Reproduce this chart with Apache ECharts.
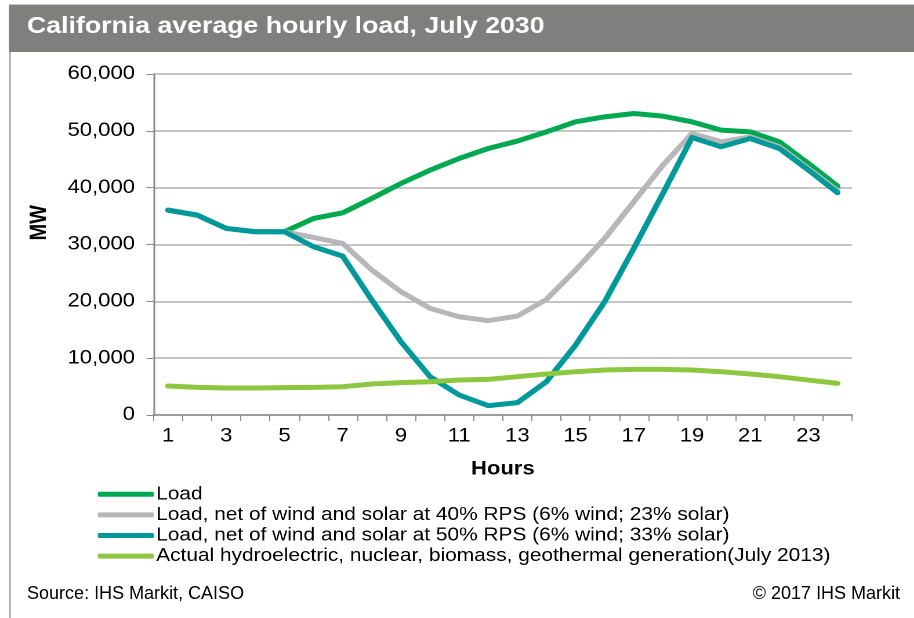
<!DOCTYPE html>
<html>
<head>
<meta charset="utf-8">
<script src="https://cdn.jsdelivr.net/npm/echarts@6/dist/echarts.min.js"></script>
<style>
  html, body { margin: 0; padding: 0; background: #fff; overflow: hidden; }
  /* the source picture is stretched sideways, so draw narrower and stretch */
  #chart { width: 788px; height: 618px; transform: scaleX(1.16); transform-origin: 0 0; }
</style>
</head>
<body>
<div id="chart"></div>
<script>
  // hours of the day
  var hours = ['1','2','3','4','5','6','7','8','9','10','11','12','13','14','15','16','17','18','19','20','21','22','23','24']
  // MW values
  var load = [36050,35170,32830,32240,32240,34580,35580,38100,40740,43080,45140,46890,48200,49820,51580,52460,53050,52580,51580,50120,49820,48070,44260,40270]
  var net40 = [36050,35170,32830,32240,32240,31240,30190,25500,21690,18760,17290,16590,17410,20340,25500,31070,37510,43960,49530,48070,48940,47190,43380,39450]
  var net50 = [36050,35170,32830,32240,32240,29600,27960,20220,12900,6740,3520,1640,2170,5860,12310,19930,29310,38980,48830,47190,48650,46890,43080,39100]
  var baseGen = [5100,4870,4750,4750,4810,4870,4980,5450,5690,5860,6150,6270,6740,7210,7620,7910,8030,8030,7910,7620,7210,6740,6150,5570]

  var seriesNames = [
    'Load',
    'Load, net of wind and solar at 40% RPS (6% wind; 23% solar)',
    'Load, net of wind and solar at 50% RPS (6% wind; 33% solar)',
    'Actual hydroelectric, nuclear, biomass, geothermal generation(July 2013)'
  ]
  var colors = ['#00a94f', '#b7b7ba', '#00999b', '#8dc63f']
  var font = '"Liberation Sans", Arial, sans-serif'
  var sx = 1.16 // horizontal stretch used in the css

  var chart = echarts.init(document.getElementById('chart'), null, { devicePixelRatio: 2 })

  function line(name, data, color) {
    return {
      name: name,
      type: 'line',
      data: data,
      symbol: 'none',
      color: color,
      lineStyle: { width: 5, color: color, cap: 'round', join: 'round' }
    }
  }

  var option = {
    animation: false,
    textStyle: { fontFamily: font },
    graphic: [
      // title bar
      { type: 'rect', left: 9 / sx, top: 5, shape: { width: 910 / sx, height: 47 }, style: { fill: '#7f807e' }, z: 0 },
      { type: 'rect', left: 9 / sx, top: 4, shape: { width: 910 / sx, height: 1 }, style: { fill: '#c8c8c8' }, z: 0 },
      // left frame line
      { type: 'rect', left: 9 / sx, top: 52, shape: { width: 2 / sx, height: 566 }, style: { fill: '#b0b0b0' }, z: 0 },
      { type: 'text', left: 27 / sx, top: 15, z: 10,
        style: { text: 'California average hourly load, July 2030', fill: '#fff', font: 'bold 23px ' + font } },
      // footer is not stretched in the source
      { type: 'text', x: 27 / sx, y: 585, scaleX: 1 / sx,
        style: { text: 'Source: IHS Markit, CAISO', fill: '#000', font: '18px ' + font } },
      { type: 'text', x: 900 / sx, y: 585, scaleX: 1 / sx,
        style: { text: '\u00a9 2017 IHS Markit', fill: '#000', font: '18px ' + font, align: 'right' } },
      { type: 'text', left: 28 / sx, top: 205, rotation: Math.PI / 2,
        style: { text: 'MW', fill: '#000', font: 'bold 20px ' + font } }
    ],
    legend: {
      orient: 'vertical',
      left: 92 / sx,
      top: 480,
      icon: 'roundRect',
      itemWidth: 56 / sx,
      itemHeight: 5,
      itemGap: 2,
      data: seriesNames,
      textStyle: { fontSize: 18, color: '#000', fontFamily: font, lineHeight: 18.6, padding: [0, 0, 0, -3] }
    },
    grid: { left: 153.5 / sx, right: 62 / sx, top: 74, bottom: 203, containLabel: false },
    xAxis: {
      type: 'category',
      data: hours,
      name: 'Hours',
      nameLocation: 'middle',
      nameGap: 45,
      nameTextStyle: { fontSize: 19, fontWeight: 'bold', color: '#000' },
      axisLine: { lineStyle: { color: '#8a8a8a', width: 1.5 } },
      axisTick: { show: true, length: 6, interval: 0, lineStyle: { color: '#8a8a8a' } },
      axisLabel: { interval: 1, fontSize: 19, color: '#000', margin: 12 }
    },
    yAxis: {
      type: 'value',
      min: 0,
      max: 60000,
      interval: 10000,
      axisLine: { show: true, lineStyle: { color: '#8a8a8a', width: 1.5 } },
      axisTick: { show: true, length: 6, lineStyle: { color: '#8a8a8a' } },
      splitLine: { lineStyle: { color: '#b2b2b2', width: 1.5 } },
      axisLabel: {
        fontSize: 19, color: '#000', margin: 16,
        formatter: function (v) { return v.toLocaleString('en-US') }
      }
    },
    series: [
      line(seriesNames[0], load, colors[0]),
      line(seriesNames[1], net40, colors[1]),
      line(seriesNames[2], net50, colors[2]),
      line(seriesNames[3], baseGen, colors[3])
    ]
  }
  chart.setOption(option)
</script>
</body>
</html>
